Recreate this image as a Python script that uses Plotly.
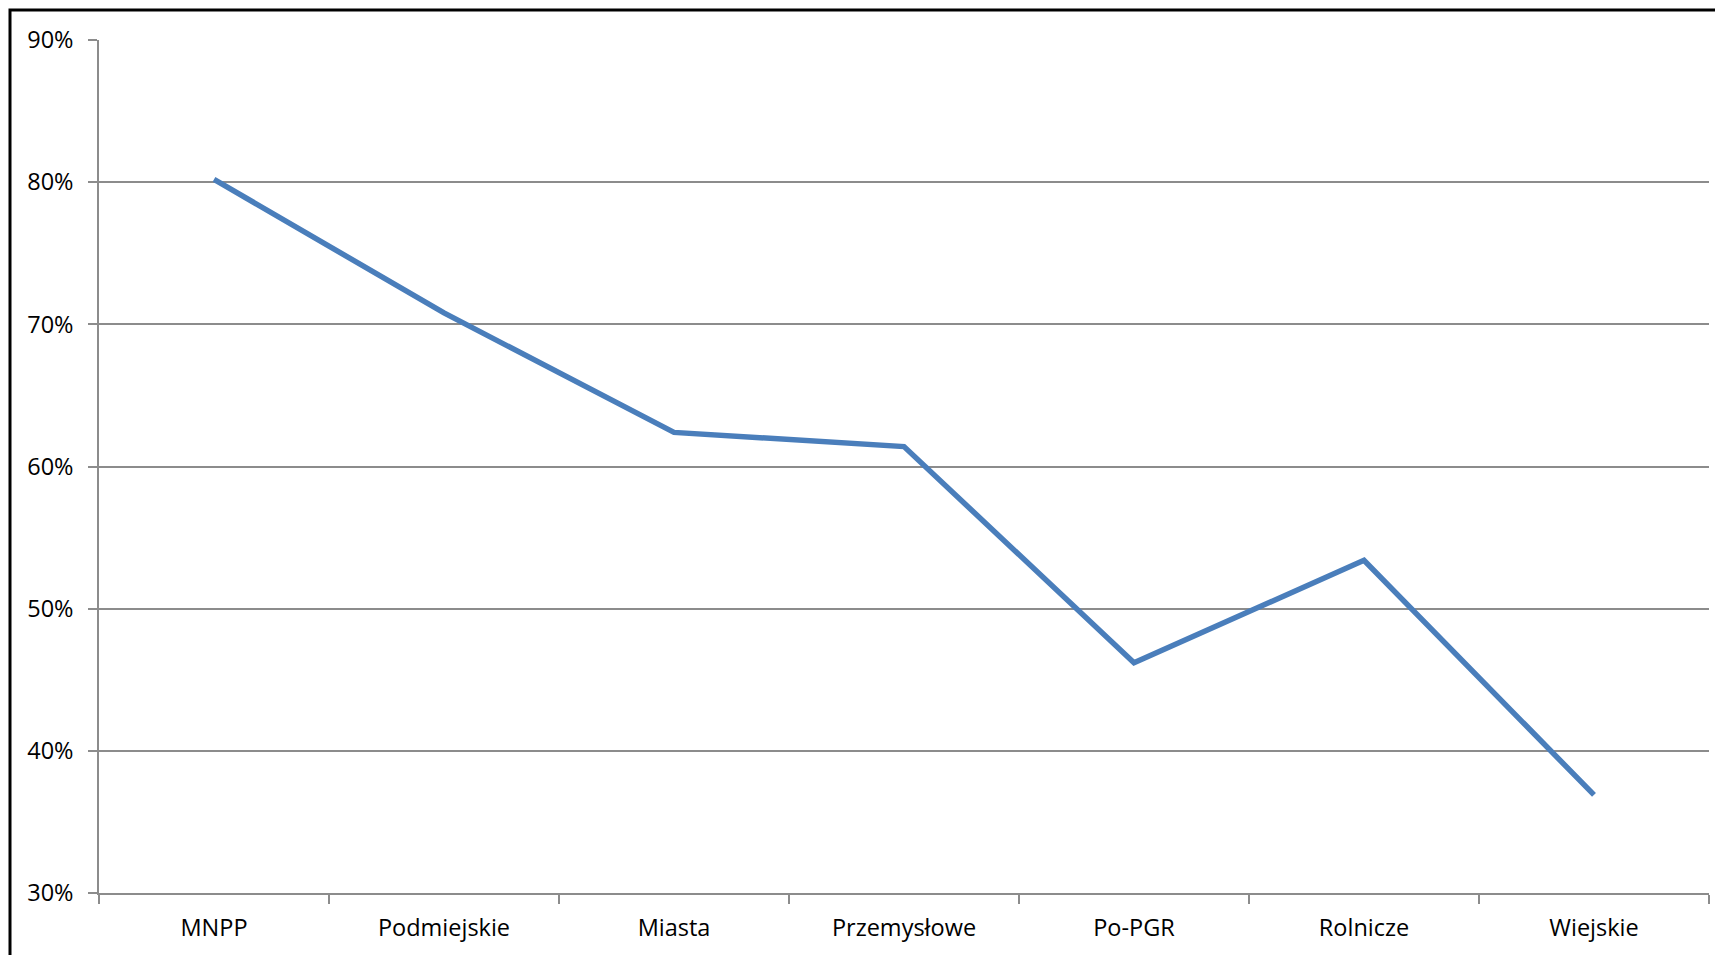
import plotly.graph_objects as go

categories = ["MNPP", "Podmiejskie", "Miasta", "Przemysłowe", "Po-PGR", "Rolnicze", "Wiejskie"]
values = [0.802, 0.708, 0.624, 0.614, 0.462, 0.534, 0.369]
y_ticks = [0.3, 0.4, 0.5, 0.6, 0.7, 0.8, 0.9]

OFF = 8  # default body margin of the page
W, H = 1723 - OFF, 955 - OFF
ml, mt = 99 - OFF, 40 - OFF
mr = 1723 - 1709
mb = 955 - 893
pw = W - ml - mr
ph = H - mt - mb

fig = go.Figure()
fig.add_trace(go.Scatter(
    x=categories, y=values, mode="lines",
    line=dict(color="#4a7ebb", width=5.5),
    hoverinfo="skip", showlegend=False,
))

grid = "#8c8c8c"
font = dict(family="Open Sans, Calibri, sans-serif", size=23.5, color="#000000")

fig.update_layout(
    width=W, height=H,
    margin=dict(l=ml, r=mr, t=mt, b=mb, autoexpand=False),
    paper_bgcolor="white", plot_bgcolor="white",
    font=font,
    xaxis=dict(
        type="category", range=[-0.5, 6.5], tickson="boundaries",
        ticks="outside", ticklen=9, tickwidth=1.5, tickcolor=grid,
        showline=True, linecolor=grid, linewidth=1.5,
        showgrid=False, zeroline=False, fixedrange=True,
        ticklabelstandoff=13,
    ),
    yaxis=dict(
        range=[0.3, 0.9], tickvals=y_ticks, tickformat=".0%",
        ticks="outside", ticklen=9, tickwidth=1.5, tickcolor=grid,
        showline=True, linecolor=grid, linewidth=1.5,
        showgrid=True, gridcolor=grid, gridwidth=1.5,
        zeroline=False, fixedrange=True,
        ticklabelstandoff=10,
    ),
)

# outer chart frame (Excel style), top-left visible, extends beyond the window
x0 = (10 - 99) / pw
y1 = 1 + (40 - 10) / ph
fig.add_shape(type="rect", xref="paper", yref="paper",
              x0=x0, x1=1.05, y0=-0.2, y1=y1,
              line=dict(color="black", width=3), layer="below")

fig.write_html("out.html")
